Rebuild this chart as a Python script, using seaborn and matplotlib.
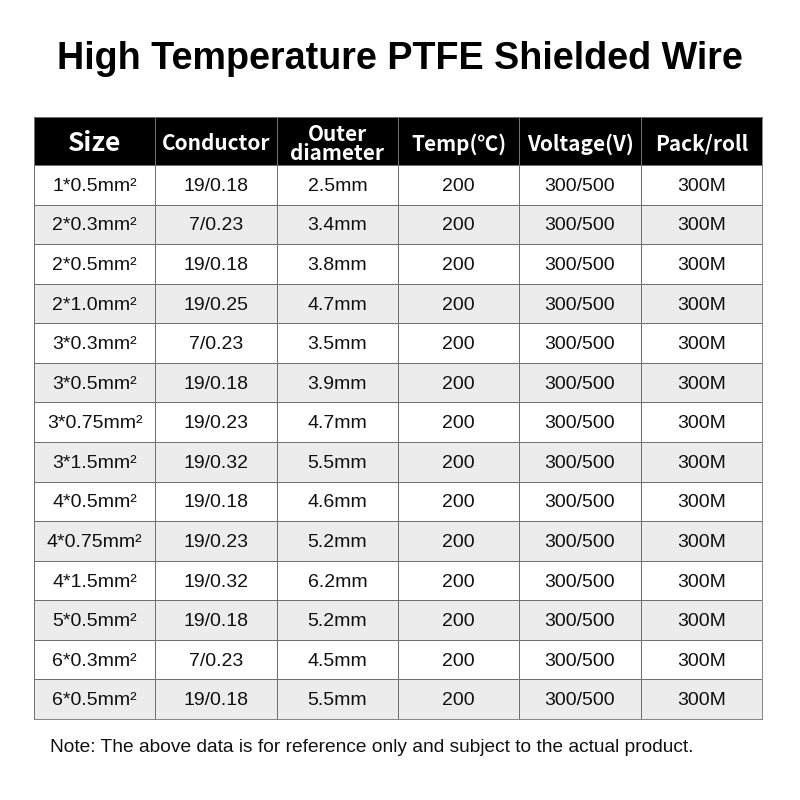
import numpy as np
import seaborn as sns
import matplotlib
matplotlib.use("Agg")
import matplotlib.pyplot as plt
from matplotlib.colors import ListedColormap

sns.set_style("white")
plt.rcParams['font.family'] = ['Liberation Sans', 'DejaVu Sans']

# table data
headers = ["Size", "Conductor", "Outer\ndiameter", "Temp(℃)", "Voltage(V)", "Pack/roll"]
sizes = ["1*0.5mm²", "2*0.3mm²", "2*0.5mm²", "2*1.0mm²", "3*0.3mm²", "3*0.5mm²", "3*0.75mm²",
         "3*1.5mm²", "4*0.5mm²", "4*0.75mm²", "4*1.5mm²", "5*0.5mm²", "6*0.3mm²", "6*0.5mm²"]
conductors = ["19/0.18", "7/0.23", "19/0.18", "19/0.25", "7/0.23", "19/0.18", "19/0.23",
              "19/0.32", "19/0.18", "19/0.23", "19/0.32", "19/0.18", "7/0.23", "19/0.18"]
outer_dia = ["2.5mm", "3.4mm", "3.8mm", "4.7mm", "3.5mm", "3.9mm", "4.7mm",
             "5.5mm", "4.6mm", "5.2mm", "6.2mm", "5.2mm", "4.5mm", "5.5mm"]
temps = ["200"] * 14
voltages = ["300/500"] * 14
packs = ["300M"] * 14

labels = np.array([sizes, conductors, outer_dia, temps, voltages, packs]).T
n_rows, n_cols = labels.shape
shade = np.array([[i % 2] * n_cols for i in range(n_rows)])

grid_col = "#707070"
fig = plt.figure(figsize=(8, 8), dpi=100)

# header row
ax_h = fig.add_axes([34 / 800, 1 - 165 / 800, 728 / 800, 48 / 800])
sns.heatmap(np.zeros((1, n_cols)), ax=ax_h, cmap=ListedColormap(["black"]), cbar=False,
            linewidths=0.5, linecolor=grid_col, xticklabels=False, yticklabels=False)
for j, h in enumerate(headers):
    fs = 19 if h == "Size" else 15
    ax_h.text(j + 0.5, 0.56, h, ha="center", va="center", color="white",
              fontsize=fs, fontweight="bold", linespacing=0.85,
              family=["Noto Sans CJK SC", "DejaVu Sans"])

# body rows
ax = fig.add_axes([34 / 800, 1 - 719 / 800, 728 / 800, 554 / 800])
sns.heatmap(shade, ax=ax, cmap=ListedColormap(["white", "#ececec"]), cbar=False,
            annot=labels, fmt="", annot_kws={"fontsize": 14, "color": "#111111"},
            linewidths=0.5, linecolor=grid_col, xticklabels=False, yticklabels=False)
for t in ax.texts:
    x, y = t.get_position()
    t.set_position((x, y + 0.04))
for a in (ax, ax_h):
    for s in a.spines.values():
        s.set_visible(True)
        s.set_color(grid_col)
        s.set_linewidth(0.6)

fig.text(0.5, 1 - 59 / 800, "High Temperature PTFE Shielded Wire", ha="center", va="center",
         fontsize=27.2, fontweight="bold", color="black")
fig.text(50 / 800, 1 - 748 / 800,
         "Note: The above data is for reference only and subject to the actual product.",
         ha="left", va="center", fontsize=13.8, color="#111111")

fig.savefig("out.png", dpi=100, facecolor="white")
